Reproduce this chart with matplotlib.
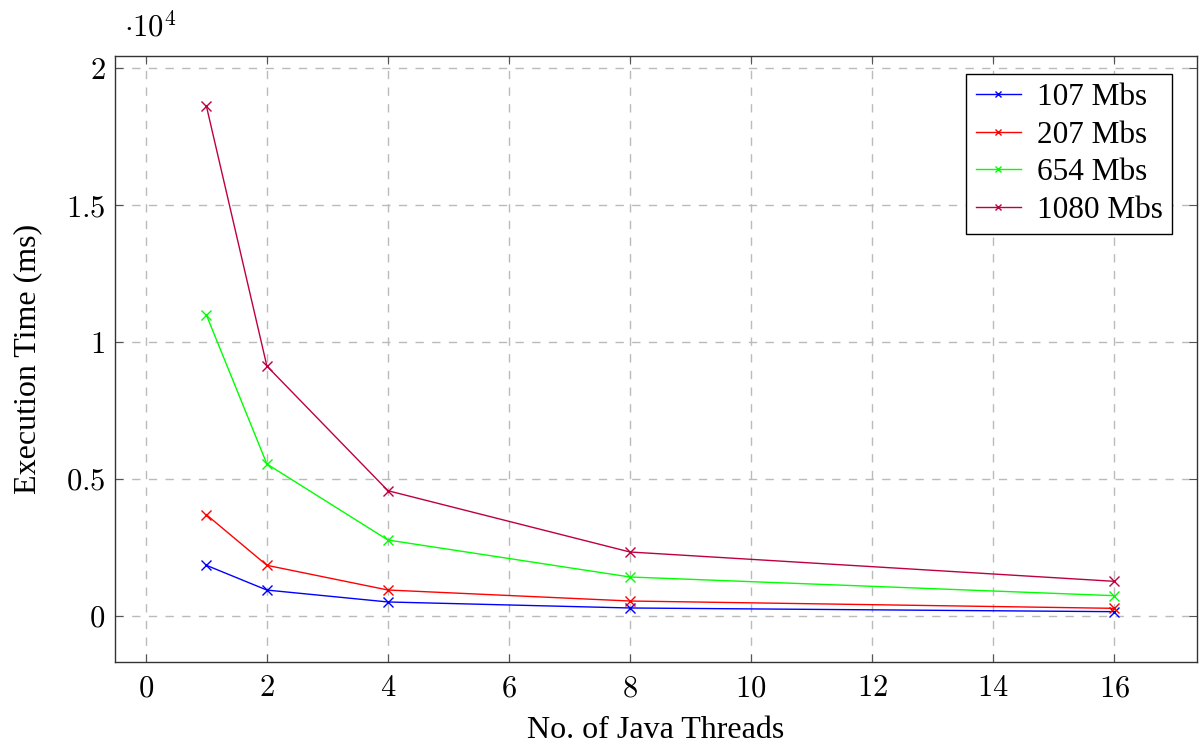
import matplotlib
matplotlib.use("Agg")
import matplotlib.pyplot as plt
from matplotlib.ticker import FuncFormatter

threads = [1, 2, 4, 8, 16]
t107 = [1835, 930, 495, 275, 140]
t207 = [3686, 1835, 932, 530, 262]
t654 = [10990, 5540, 2760, 1408, 725]
t1080 = [18630, 9120, 4563, 2322, 1250]
labels = ["107 Mbs", "207 Mbs", "654 Mbs", "1080 Mbs"]
colors = ["#0000ff", "#ff0000", "#00ff00", "#bf0040"]
ytick_text = {0: "0", 5000: "0.5", 10000: "1", 15000: "1.5", 20000: "2"}

plt.rcParams['font.family'] = ['Liberation Serif', 'DejaVu Serif']
plt.rcParams['mathtext.fontset'] = 'cm'

W, H = 1203, 743
fig = plt.figure(figsize=(W / 100, H / 100), dpi=100)
L, R, T, B = 115, 1197, 56, 662
ax = fig.add_axes([L / W, 1 - B / H, (R - L) / W, (B - T) / H])

for ys, lab, c in zip([t107, t207, t654, t1080], labels, colors):
    ax.plot(threads, ys, color=c, lw=1.0, marker='x', ms=7, mew=1.0, label=lab)

ax.set_xlim(-0.51, 17.37)
ax.set_ylim(-1700, 20457)
ax.set_xticks(range(0, 17, 2))
ax.set_yticks(sorted(ytick_text))
ax.xaxis.set_major_formatter(FuncFormatter(lambda v, p: r"$%d$" % int(round(v))))
ax.yaxis.set_major_formatter(FuncFormatter(lambda v, p: r"$%s$" % ytick_text[int(round(v))]))
ax.tick_params(direction='in', length=6, width=0.8, top=True, right=True, labelsize=22, color='#555555')
ax.tick_params(axis='x', pad=9)
ax.tick_params(axis='y', pad=7)
ax.grid(True, color='#bbbbbb', linestyle=(0, (6, 6)), lw=1.0)
for s in ax.spines.values():
    s.set_linewidth(1.0)
    s.set_color('#333333')

ax.set_xlabel("No. of Java Threads", fontsize=23, labelpad=9)
ax.set_ylabel("Execution Time (ms)", fontsize=23, labelpad=17)
fig.text(124 / W, 1 - 28 / H, r"$\cdot 10^4$", fontsize=22, va='center', ha='left')

leg = ax.legend(loc='upper right', bbox_to_anchor=((1172 - L) / (R - L), 1 - (74 - T) / (B - T)),
                borderaxespad=0, fontsize=22.5, frameon=True, fancybox=False, edgecolor='black',
                framealpha=1, handlelength=1.45, handletextpad=0.5, borderpad=0.3,
                labelspacing=0.27, markerscale=0.7)
leg.get_frame().set_linewidth(1.0)

fig.savefig("out.png", dpi=100)
